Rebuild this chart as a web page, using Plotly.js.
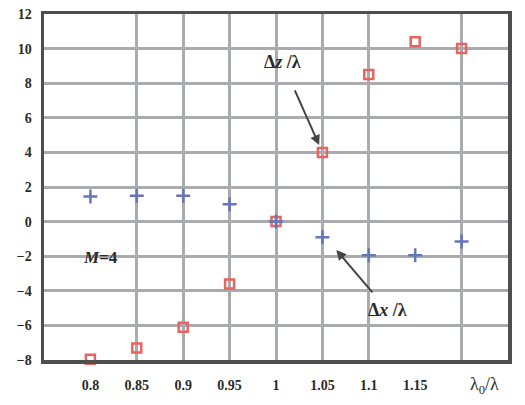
<!DOCTYPE html>
<html>
<head>
<meta charset="utf-8">
<script src="https://cdn.plot.ly/plotly-3.0.1.min.js"></script>
<style>html,body{margin:0;padding:0;background:#fff;}#chart{width:525px;height:405px;}</style>
</head>
<body>
<div id="chart"></div>
<script>
const ratio = [0.8, 0.85, 0.9, 0.95, 1.0, 1.05, 1.1, 1.15, 1.2];
const dzOverLambda = [-7.95, -7.3, -6.1, -3.6, 0.0, 4.0, 8.5, 10.4, 10.0];
const dxOverLambda = [1.45, 1.5, 1.5, 1.0, 0.0, -0.9, -1.95, -1.95, -1.15];
const xTickVals = [0.8, 0.85, 0.9, 0.95, 1.0, 1.05, 1.1, 1.15];
const xTickText = ['0.8', '0.85', '0.9', '0.95', '1', '1.05', '1.1', '1.15'];
const xGridVals = [0.85, 0.9, 0.95, 1.0, 1.05, 1.1, 1.2];
const yTickVals = [-8, -6, -4, -2, 0, 2, 4, 6, 8, 10, 12];

const serif = 'Liberation Serif, Times New Roman, serif';
const gridColor = '#a9abae';
const ink = '#2a2a2a';

const traces = [
  {
    x: ratio, y: dzOverLambda, type: 'scatter', mode: 'markers', name: 'Δz/λ',
    marker: {symbol: 'square-open', size: 9, color: '#e8645f', line: {width: 2.5, color: '#e8645f'}},
    cliponaxis: false
  },
  {
    x: ratio, y: dxOverLambda, type: 'scatter', mode: 'markers', name: 'Δx/λ',
    marker: {symbol: 'cross-thin-open', size: 10, color: '#6576bd', line: {width: 2.5, color: '#6576bd'}},
    cliponaxis: false
  }
];

const layout = {
  width: 525, height: 405,
  margin: {l: 44, r: 17, t: 14, b: 45},
  paper_bgcolor: '#ffffff', plot_bgcolor: '#ffffff',
  showlegend: false,
  font: {family: serif, size: 14, color: ink},
  xaxis: {
    range: [0.75, 1.25],
    tickmode: 'array', tickvals: xTickVals, ticktext: xTickText,
    showgrid: false, zeroline: false,
    ticks: 'outside', ticklen: 10, tickcolor: 'rgba(0,0,0,0)',
    tickfont: {family: serif, size: 14, color: ink, weight: 'bold'},
    showline: true, mirror: true, linecolor: '#4e4e4e', linewidth: 3.5,
    minor: {tickmode: 'array', tickvals: xGridVals, showgrid: true, gridcolor: gridColor, gridwidth: 3, ticks: ''}
  },
  yaxis: {
    range: [-8, 12],
    tickmode: 'array', tickvals: yTickVals,
    showgrid: true, gridcolor: gridColor, gridwidth: 3, zeroline: false,
    ticks: 'outside', ticklen: 6, tickcolor: 'rgba(0,0,0,0)',
    tickfont: {family: serif, size: 14, color: ink, weight: 'bold'},
    showline: true, mirror: true, linecolor: '#4e4e4e', linewidth: 3.5
  },
  annotations: [
    {x: 1.05, y: 4.0, xref: 'x', yref: 'y', text: 'Δ<i>z</i> /λ', showarrow: true,
     ax: -40, ay: -90, arrowhead: 2, arrowsize: 1, arrowwidth: 2, arrowcolor: '#444',
     standoff: 8, startstandoff: 18,
     font: {family: serif, size: 18, color: ink, weight: 'bold'}},
    {x: 1.065, y: -1.64, xref: 'x', yref: 'y', text: 'Δ<i>x</i> /λ', showarrow: true,
     ax: 51, ay: 60, arrowhead: 2, arrowsize: 1, arrowwidth: 2, arrowcolor: '#444',
     standoff: 0, startstandoff: 8,
     font: {family: serif, size: 18, color: ink, weight: 'bold'}},
    {x: 0.811, y: -2.05, xref: 'x', yref: 'y', text: '<i>M</i>=4', showarrow: false,
     font: {family: serif, size: 17, color: ink, weight: 'bold'}},
    {x: 1.225, y: -8, xref: 'x', yref: 'y', yanchor: 'top', yshift: -12, text: 'λ<sub>0</sub>/λ', showarrow: false,
     font: {family: serif, size: 18, color: ink}}
  ]
};

Plotly.newPlot('chart', traces, layout, {staticPlot: true, displayModeBar: false});
</script>
</body>
</html>
